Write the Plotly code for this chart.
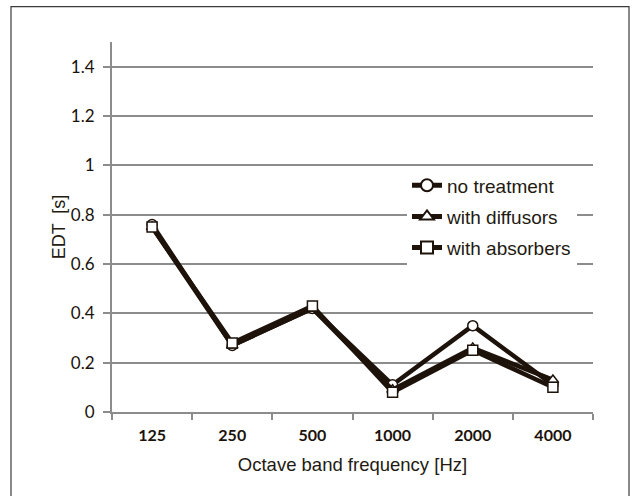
import plotly.graph_objects as go

categories = ["125", "250", "500", "1000", "2000", "4000"]
no_treatment = [0.76, 0.27, 0.42, 0.11, 0.35, 0.11]
with_diffusors = [0.75, 0.27, 0.42, 0.09, 0.26, 0.13]
with_absorbers = [0.75, 0.28, 0.43, 0.08, 0.25, 0.10]
y_ticks = [0, 0.2, 0.4, 0.6, 0.8, 1, 1.2, 1.4]
y_tick_labels = ["0", "0.2", "0.4", "0.6", "0.8", "1", "1.2", "1.4"]

line_color = "#1e130b"
grid_color = "#8c8c8c"

series = [
    ("no treatment", no_treatment, "circle"),
    ("with diffusors", with_diffusors, "triangle-up"),
    ("with absorbers", with_absorbers, "square"),
]

fig = go.Figure()
for name, vals, sym in series:
    fig.add_trace(go.Scatter(
        x=categories, y=vals, name=name, mode="lines+markers", legendgroup=name,
        line=dict(color=line_color, width=4.5),
        marker=dict(symbol=sym, size=10, color="white",
                    line=dict(color=line_color, width=1.5)),
    ))

L, R, T, B = 112, 42, 41.5, 84
W, H = 635, 496
pw, ph = W - L - R, H - T - B

def px_x(p):
    return (p - L) / pw

def px_y(p):
    return (H - B - p) / ph

fig.update_layout(
    width=W, height=H,
    margin=dict(l=L, r=R, t=T, b=B, pad=0),
    paper_bgcolor="white", plot_bgcolor="white",
    font=dict(family="Liberation Sans, Arial, sans-serif", color="#231a12", size=17),
    showlegend=True,
    legend=dict(x=px_x(407), y=px_y(166), xanchor="left", yanchor="top",
                bgcolor="white", font=dict(size=19, family="Liberation Sans, Arial"),
                tracegroupgap=3.5, itemsizing="constant"),
    xaxis=dict(
        type="category", range=[-0.5, 5.5],
        showline=True, linecolor=grid_color, linewidth=2,
        ticks="outside", tickson="boundaries", ticklen=6, tickwidth=2,
        tickcolor=grid_color, showgrid=False, ticklabelstandoff=8,
        tickfont=dict(family="Lato, Open Sans, sans-serif", size=16, color="#1a120b", weight="bold"),
        title=dict(text="Octave band frequency [Hz]", font=dict(size=18.5), standoff=15),
        fixedrange=True,
    ),
    yaxis=dict(
        range=[0, 1.5], tickvals=y_ticks, ticktext=y_tick_labels,
        showline=True, linecolor=grid_color, linewidth=2,
        ticks="outside", ticklen=7, tickwidth=2, tickcolor=grid_color,
        showgrid=True, gridcolor=grid_color, gridwidth=2, ticklabelstandoff=5,
        zeroline=False,
        tickfont=dict(family="Lato, Open Sans, sans-serif", size=17, color="#1a120b"),
        title=dict(text="EDT  [s]", font=dict(size=18), standoff=1),
        fixedrange=True,
    ),
    shapes=[dict(type="rect", xref="paper", yref="paper",
                 x0=px_x(11), x1=px_x(629), y0=px_y(499), y1=px_y(6),
                 line=dict(color="#3a3a3a", width=1.2), layer="below")],
)

fig.write_html("out.html", config={"displayModeBar": False},
               post_script="document.body.style.margin='0';")
